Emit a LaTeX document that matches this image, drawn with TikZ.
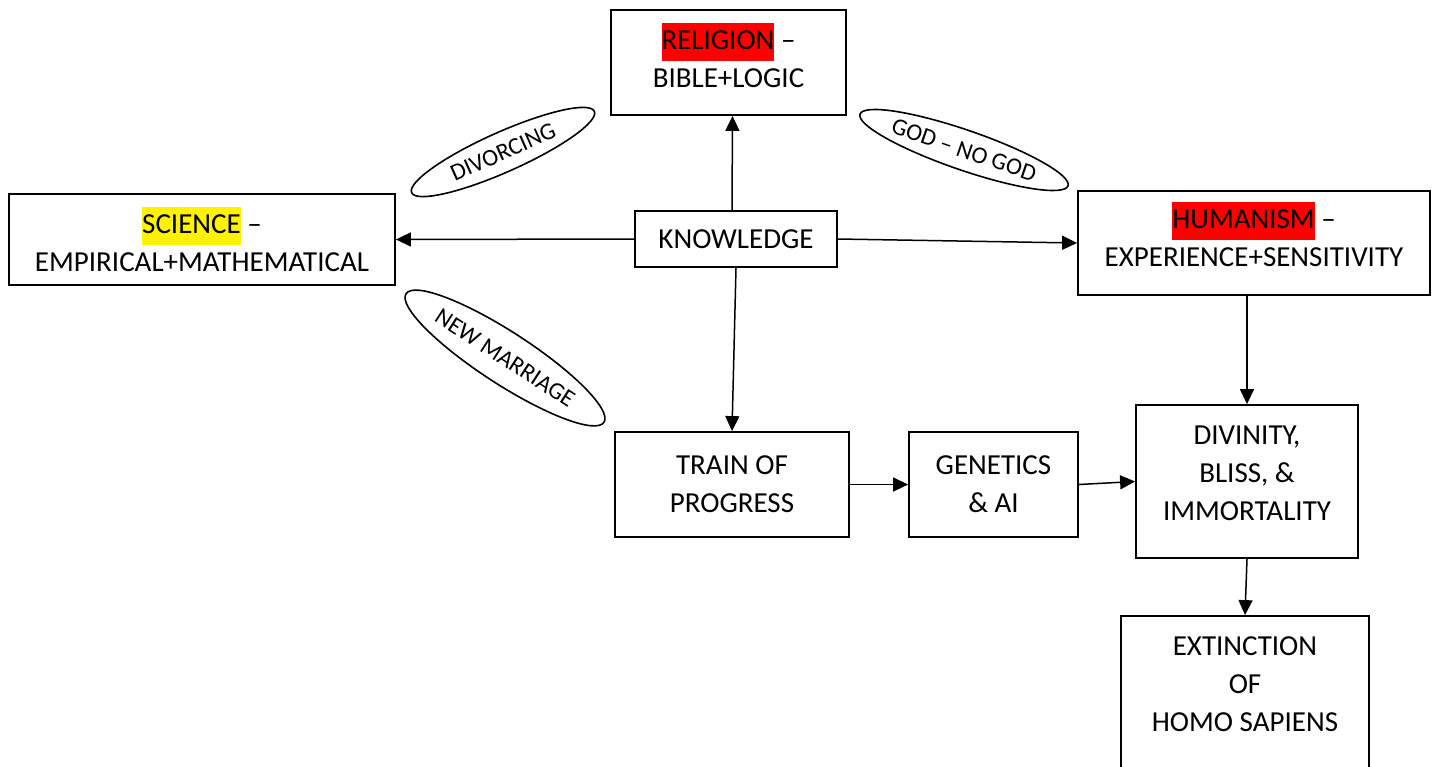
\documentclass[tikz,border=0pt]{standalone}
\usepackage{fontspec}
\setmainfont{Carlito}
\usepackage{xcolor}
\usetikzlibrary{shapes.geometric,arrows.meta}

\newcommand{\hilite}[2]{{\setlength{\fboxsep}{0pt}\colorbox{#1}{\strut #2}}}

\begin{document}
\begin{tikzpicture}[x=0.5pt,y=-0.5pt,
  box/.style={draw,line width=0.9pt,align=center,inner sep=2pt,font=\fontsize{14.5}{19}\selectfont},
  oval/.style={draw,ellipse,line width=0.8pt,inner sep=0pt,font=\fontsize{12}{14}\selectfont},
  arr/.style={line width=0.75pt,-{Triangle[length=7.5pt,width=7pt]}}]
\useasboundingbox (0,0) rectangle (1435,766);
%boxes
\node[box,minimum width=117.5pt,minimum height=52.5pt] (religion) at (728.5,62.5) {\hilite{red}{RELIGION} --\\BIBLE+LOGIC\\[-17pt]\strut};
\node[box,minimum width=193pt,minimum height=45.5pt] (science) at (202,239.5) {\hilite{yellow}{SCIENCE} --\\EMPIRICAL+MATHEMATICAL};
\node[box,minimum width=101pt,minimum height=28pt] (knowledge) at (736,239) {KNOWLEDGE};
\node[box,minimum width=176pt,minimum height=52pt] (humanism) at (1254,243) {\hilite{red}{HUMANISM} --\\EXPERIENCE+SENSITIVITY\\[-16pt]\strut};
\node[box,minimum width=117pt,minimum height=52.5pt] (train) at (732,484.5) {TRAIN OF\\PROGRESS};
\node[box,minimum width=84.5pt,minimum height=52.5pt] (genetics) at (993.5,484.5) {GENETICS\\\& AI};
\node[box,minimum width=111pt,minimum height=76.5pt] (divinity) at (1247,481.5) {DIVINITY,\\BLISS, \&\\IMMORTALITY\\[-16pt]\strut};
\node[box,minimum width=124pt,minimum height=87pt] (extinction) at (1245,703) {EXTINCTION\\OF\\HOMO SAPIENS\\[-6pt]\strut};
%ovals
\node[oval,rotate=24,minimum width=100pt,minimum height=20pt] (divorcing) at (503,152) {DIVORCING};
\node[oval,rotate=-19,minimum width=110pt,minimum height=20pt] (godnogod) at (964,150) {GOD -- NO GOD};
\node[oval,rotate=-33,minimum width=118pt,minimum height=26pt] (marriage) at (505,358) {NEW MARRIAGE};
%arrows
\draw[arr] ([xshift=-2pt]knowledge.north) -- ([xshift=2pt]religion.south);
\draw[arr] (knowledge.west) -- (science.east);
\draw[arr] (knowledge.east) -- (humanism.west);
\draw[arr] (knowledge.south) -- (train.north);
\draw[arr] (humanism.south -| divinity.north) -- (divinity.north);
\draw[arr] (train.east) -- (genetics.west);
\draw[arr] (genetics.east) -- (divinity.west);
\draw[arr] (divinity.south) -- (extinction.north);
\end{tikzpicture}
\end{document}
